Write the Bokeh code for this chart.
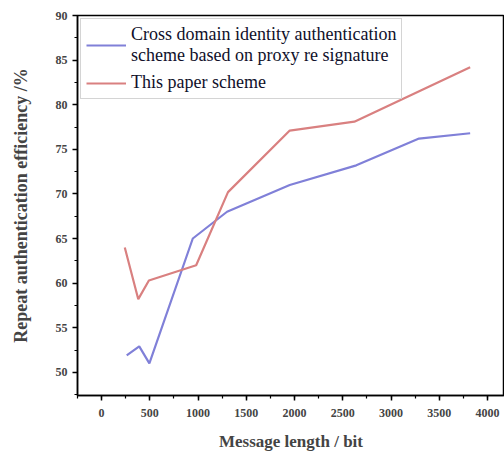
from bokeh.plotting import figure
from bokeh.models import Range1d, Legend, LegendItem, SingleIntervalTicker
from bokeh.embed import file_html
from bokeh.resources import INLINE

x_proxy = [260, 390, 495, 945, 1300, 1950, 2640, 3290, 3820]
y_proxy = [51.9, 52.9, 51.0, 65.0, 68.0, 71.0, 73.2, 76.2, 76.8]
x_paper = [240, 380, 490, 980, 1310, 1950, 2620, 3820]
y_paper = [64.0, 58.2, 60.3, 62.0, 70.2, 77.1, 78.1, 84.2]

FONT = "Liberation Serif"

p = figure(width=504, height=456, output_backend="svg", toolbar_location=None,
           x_range=Range1d(-250, 4176), y_range=Range1d(47.4, 90),
           min_border_left=77, min_border_right=0, min_border_top=15, min_border_bottom=61)
p.grid.visible = False
p.outline_line_color = "black"
p.outline_line_width = 1.5

r1 = p.line(x_proxy, y_proxy, line_color="#8080d8", line_width=2.2)
r2 = p.line(x_paper, y_paper, line_color="#d98080", line_width=2.2)

for ax in (p.xaxis[0], p.yaxis[0]):
    ax.axis_line_width = 1.5
    ax.major_tick_line_width = 1.5
    ax.minor_tick_line_width = 1.2
    ax.major_tick_out = 5
    ax.major_tick_in = 0
    ax.minor_tick_out = 3
    ax.minor_tick_in = 0
    ax.major_label_text_font = FONT
    ax.major_label_text_font_style = "bold"
    ax.major_label_text_font_size = "12px"
    ax.axis_label_text_font = FONT
    ax.axis_label_text_font_style = "bold"

p.xaxis.ticker = SingleIntervalTicker(interval=500, num_minor_ticks=2)
p.yaxis.ticker = SingleIntervalTicker(interval=5, num_minor_ticks=2)
p.xaxis.axis_label = "Message length / bit"
p.yaxis.axis_label = "Repeat authentication efficiency /%"
p.xaxis.axis_label_text_font_size = "17px"
p.yaxis.axis_label_text_font_size = "18px"
p.xaxis.major_label_standoff = 8
p.xaxis.axis_label_standoff = 12
p.yaxis.axis_label_standoff = 22

legend = Legend(items=[
    LegendItem(label="Cross domain identity authentication\nscheme based on proxy re signature", renderers=[r1]),
    LegendItem(label="This paper scheme", renderers=[r2]),
], location="top_left")
legend.label_text_font = FONT
legend.label_text_font_size = "18px"
legend.label_text_color = "#10102a"
legend.border_line_color = "#aaaaaa"
legend.border_line_width = 1
legend.margin = 3
legend.padding = 5
legend.spacing = 6
legend.glyph_width = 40
legend.label_standoff = 5
legend.background_fill_alpha = 1
p.add_layout(legend)

open("out.html", "w").write(file_html(p, INLINE))
